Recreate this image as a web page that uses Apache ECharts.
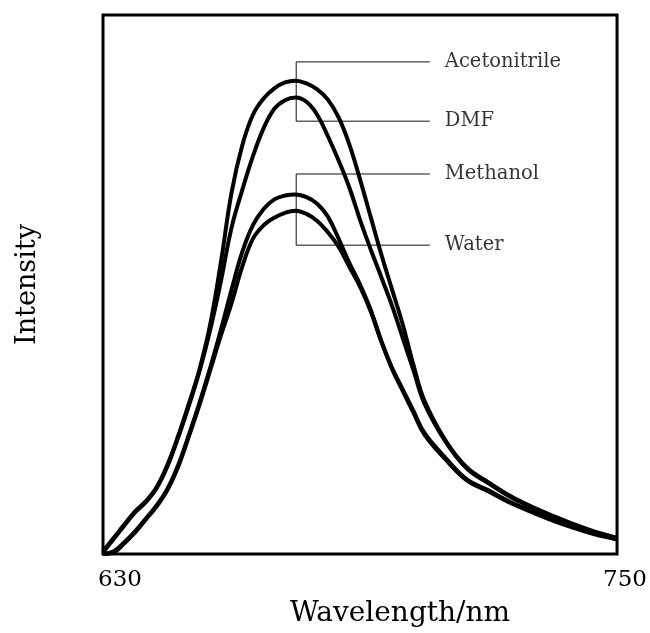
<!DOCTYPE html>
<html>
<head>
<meta charset="utf-8">
<script src="https://cdn.jsdelivr.net/npm/echarts@6/dist/echarts.min.js"></script>
<style>
  html, body { margin: 0; padding: 0; background: #fff; }
  #chart { width: 650px; height: 633px; }
</style>
</head>
<body>
<div id="chart"></div>
<script>
// wavelength grid (nm)
const wavelengths = [630, 632.5, 635, 637.5, 640, 642.5, 645, 647.5, 650, 652.5, 655, 657.5, 660, 662.5, 665, 667.5, 670, 672.5, 675, 677.5,
  680, 682.5, 685, 687.5, 690, 692.5, 695, 697.5, 700, 702.5, 705, 710, 715, 720, 725, 730, 735, 740, 745, 750];

// intensity (arbitrary units, box = 0..100)
const acetonitrile = [0.5, 3, 5.5, 7.9, 9.8, 12.4, 16.5, 21.8, 27.8, 34.2, 42.5, 54, 67, 75.8, 81.5, 84.5, 86.4, 87.5, 87.8, 87.3,
  86.2, 84.3, 81, 76, 69.5, 62.5, 55.5, 49, 42.5, 35, 28.5, 21, 16, 13.3, 10.8, 8.8, 7.1, 5.5, 4.1, 3];
const dmf = [0.3, 2.8, 5.3, 7.7, 9.6, 12.2, 16.2, 21.5, 27.4, 33.8, 41.5, 50.5, 60.5, 67.5, 73.8, 79, 82.6, 84.2, 84.7, 83.9,
  81.5, 77.5, 73, 68, 62, 56.5, 51.3, 46, 40, 34, 28, 20.8, 15.8, 13.1, 10.6, 8.7, 7, 5.4, 4, 3];
const methanol = [0, 0.5, 2.2, 4.2, 6.6, 9, 12, 16.4, 22, 28, 34.5, 41.5, 49, 56, 61, 64, 65.8, 66.5, 66.7, 66.2,
  65, 62.6, 58.5, 54, 50, 45.3, 39.5, 34.5, 30.5, 26.5, 22.5, 17.8, 13.8, 11.8, 9.7, 8, 6.4, 5, 3.8, 2.8];
const water = [0, 0.3, 2, 4, 6.4, 8.8, 11.8, 16.1, 21.7, 27.6, 34, 40.5, 46.5, 53.3, 58.5, 61, 62.4, 63.3, 63.7, 63.1,
  61.8, 59.7, 57, 53.3, 49.6, 45, 39.3, 34.3, 30.2, 26.2, 22.2, 17.5, 13.6, 11.6, 9.5, 7.8, 6.2, 4.8, 3.6, 2.7];

// labels and their bracket levels
const solventNames = ['Acetonitrile', 'DMF', 'Methanol', 'Water'];
const labelLevels = [91.3, 80.3, 70.5, 57.3];
const peakWavelength = 675.1;
const leaderEnd = 706.3;

const FONT = 'DejaVu Serif';

function pairs(ys) {
  return wavelengths.map((x, i) => [x, ys[i]]);
}

function curve(name, ys) {
  return {
    name: name,
    type: 'line',
    data: pairs(ys),
    smooth: 0.4,
    showSymbol: false,
    z: 3,
    lineStyle: { color: '#000', width: 4 }
  };
}

// bracket: two labels joined by a vertical line through the peaks
function bracket(top, bottom) {
  return {
    type: 'line',
    data: [[leaderEnd, top], [peakWavelength, top], [peakWavelength, bottom], [leaderEnd, bottom]],
    showSymbol: false,
    silent: true,
    z: 2,
    lineStyle: { color: '#111', width: 1 }
  };
}

const chart = echarts.init(document.getElementById('chart'));

chart.setOption({
  animation: false,
  backgroundColor: '#fff',
  grid: { left: 103, right: 31, top: 15, bottom: 75, show: true, borderColor: '#000', borderWidth: 3 },
  xAxis: {
    type: 'value',
    min: 630,
    max: 750,
    interval: 30,
    name: 'Wavelength/nm',
    nameLocation: 'middle',
    nameGap: 46,
    nameTextStyle: { fontFamily: FONT, fontSize: 28, color: '#000', padding: [0, 0, 0, 80] },
    axisLine: { show: false },
    axisTick: { show: false },
    splitLine: { show: false },
    axisLabel: {
      margin: 15,
      color: '#000',
      fontFamily: FONT,
      fontSize: 23,
      formatter: function (v) {
        if (v === 630) return '{a|630}';
        if (v === 750) return '{b|750}';
        return '';
      },
      rich: {
        a: { fontFamily: FONT, fontSize: 23, color: '#000', padding: [0, 0, 0, 34] },
        b: { fontFamily: FONT, fontSize: 23, color: '#000', padding: [0, 0, 0, 16] }
      }
    }
  },
  yAxis: {
    type: 'value',
    min: 0,
    max: 100,
    name: 'Intensity',
    nameLocation: 'middle',
    nameGap: 62,
    nameTextStyle: { fontFamily: FONT, fontSize: 27, color: '#000' },
    axisLine: { show: false },
    axisTick: { show: false },
    axisLabel: { show: false },
    splitLine: { show: false }
  },
  series: [
    bracket(labelLevels[0], labelLevels[1]),
    bracket(labelLevels[2], labelLevels[3]),
    curve('Acetonitrile', acetonitrile),
    curve('DMF', dmf),
    curve('Methanol', methanol),
    curve('Water', water),
    {
      type: 'scatter',
      symbolSize: 0,
      silent: true,
      data: solventNames.map((n, i) => [leaderEnd, labelLevels[i], n]),
      label: {
        show: true,
        position: 'right',
        distance: 15,
        formatter: p => p.data[2],
        fontFamily: FONT,
        fontSize: 19.5,
        color: '#000'
      }
    }
  ]
});
</script>
</body>
</html>
